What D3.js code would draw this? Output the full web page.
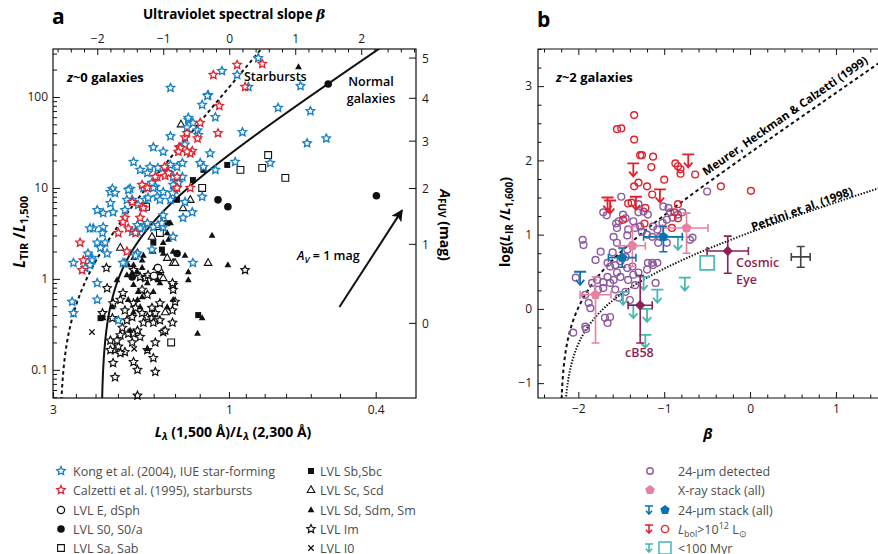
<!DOCTYPE html>
<html>
<head>
<meta charset="utf-8">
<title>IRX-beta</title>
<style>
  body { margin: 0; background: #fff; }
  text { font-family: "Open Sans", "Noto Sans", sans-serif; }
</style>
</head>
<body>
<svg id="chart" width="878" height="554"></svg>
<script src="https://cdn.jsdelivr.net/npm/d3@7"></script>
<script>
// ---------- panel a data: [beta, L_TIR/L_1500] ----------
const kongStars = [[-0.89,126],[-0.11,193],[0.12,175],[0.44,268],[0.29,129],[-0.32,105],[-0.41,82],[-0.21,60],[0.74,76],[-0.62,56],[-0.55,52],[-0.48,43],[-0.64,46],[-0.47,38],[-0.89,37],[0.20,41],[-0.67,30],[-1.15,28],[-1.00,25],[-0.29,24],[-1.45,19.3],[0.09,19.3],[0.62,18.8],[-0.44,18.8],[-0.39,17],[-1.20,17],[-0.89,17.9],[-0.79,17],[-0.71,18.8],[-1.35,15.8],[-1.24,14.6],[-0.94,15],[-0.21,15.8],[-0.85,13.2],[-1.77,9.8],[-1.50,9.8],[-1.12,10.3],[-0.77,11.4],[-1.08,16.6],[-1.80,9.0],[-1.73,8.8],[-1.53,9.5],[-1.47,7.4],[-1.55,7.4],[-1.80,6.8],[-1.58,5.7],[-1.76,5.4],[-1.91,5.3],[-2.00,5.7],[-1.91,3.7],[-2.06,3.6],[-1.92,3.2],[-2.11,3.6],[-1.88,2.5],[-2.00,2.5],[-1.95,2.2],[-1.85,1.9],[-2.14,1.9],[-2.08,1.7],[-2.36,1.5],[-2.18,1.32],[-2.08,1.6],[-1.30,10],[-1.27,7.4],[-1.23,7.8],[-1.09,8.0],[-1.15,10],[-1.05,7.4],[-1.00,9.0],[-1.17,11.4],[-1.38,6.5],[-1.00,5.0],[-1.30,3.7],[-1.39,3.9],[-1.47,3.3],[-1.39,3.3],[-1.35,3.6],[-1.24,4.1],[-1.15,3.7],[-1.08,3.9],[-1.00,3.7],[-1.39,1.9],[-1.58,1.5],[-1.17,2.1],[-0.85,10.8],[-0.82,9.5],[-0.86,8.8],[-0.71,13.2],[-0.89,7.4],[-0.67,7.0],[-0.70,4.7],[-0.56,5.4],[-0.85,2.9],[-1.02,4.1],[-0.55,1.5],[-0.41,8.0],[-2.38,0.56],[-2.36,0.42],[-2.00,0.90],[-2.00,0.59],[-1.68,0.35],[-1.61,1.5],[-1.42,1.8],[-2.11,1.42],[1.23,70],[1.18,31],[1.47,35],[1.08,132],[-0.33,103],[-0.62,59]];
const calzettiStars = [[0.12,225],[0.50,231],[-0.24,175],[0.24,129],[-0.15,80],[-0.44,52],[-0.17,40],[-0.67,36],[-0.76,28],[-0.56,25.5],[-0.59,24],[-1.09,13.2],[-0.97,13.6],[-0.79,13.2],[-1.32,10.8],[-0.98,17],[-2.26,2.5],[-2.21,1.6],[-2.23,1.25],[-1.55,2.0],[-1.58,4.7],[-1.47,7.0],[-1.61,4.2],[-1.32,6.2],[-1.30,6.0],[-1.35,4.7],[-1.53,3.6],[-1.42,3.2],[-1.68,3.2],[-1.24,10],[-1.12,13.2],[-0.92,14.6],[-0.79,10],[-0.74,27.5],[-0.64,25],[-0.64,40],[-0.48,35],[-0.77,25],[-0.59,10]];
const lvlIm = [[-1.86,1.32],[-1.85,0.79],[-1.92,0.42],[-1.76,0.54],[-1.73,0.083],[-1.65,0.59],[-1.55,0.35],[-1.62,0.29],[-1.80,0.21],[-1.73,0.165],[-1.76,0.119],[-1.68,0.18],[-1.58,0.157],[-1.65,0.24],[-1.53,0.25],[-1.45,0.25],[-1.47,0.20],[-1.39,0.27],[-1.35,0.23],[-1.45,0.122],[-1.39,0.10],[-1.39,0.052],[-1.32,0.42],[-1.24,0.38],[-1.17,0.37],[-1.12,0.42],[-1.05,0.35],[-1.15,0.33],[-1.00,0.26],[-1.12,0.20],[-1.24,0.165],[-1.15,0.135],[-1.12,0.095],[-0.86,0.33],[-0.86,0.45],[-0.85,0.76],[-0.85,0.86],[-0.82,0.56],[-1.17,0.48],[-1.24,0.67],[-1.32,0.76],[-1.45,0.54],[-1.42,0.48],[-1.47,0.38],[-1.58,0.45],[-1.61,0.70],[-1.35,1.05],[-1.45,1.25],[-1.27,1.02],[-1.23,1.10],[0.24,1.25],[-0.86,0.90],[-1.05,0.54],[-1.30,0.33],[-1.70,0.21],[-1.80,0.165],[-1.65,0.153],[-1.77,0.37],[-1.15,1.05],[-0.97,0.27]];
const lvlSd = [[-1.77,0.49],[-1.91,0.37],[-1.55,1.10],[-1.45,0.86],[-1.38,0.72],[-1.39,0.59],[-1.32,0.63],[-1.24,0.90],[-1.15,0.72],[-1.12,1.32],[-1.08,0.97],[-1.45,1.42],[-1.45,1.7],[-1.32,1.6],[-1.30,1.8],[-1.39,2.0],[-1.15,2.0],[-1.00,1.9],[-0.85,2.0],[-0.67,1.8],[-0.62,0.97],[-0.41,0.37],[-0.48,0.25],[-0.02,1.42],[-1.24,0.17],[-1.35,0.49],[-1.45,0.43],[-0.94,0.49],[-0.85,0.59],[-1.05,0.90],[-1.50,0.27],[-1.53,0.59],[-1.70,0.97],[-0.26,3.0],[-1.47,1.16],[-1.39,1.19],[-1.32,1.32],[-1.05,1.16],[-0.92,2.7],[-1.00,2.5],[-0.94,3.2],[-1.53,1.42],[-1.09,1.35],[-0.89,4.1],[1.05,214],[-0.62,1.19]];
const lvlSc = [[-0.73,50],[-0.70,6.0],[-0.59,7.4],[-1.17,2.9],[-1.65,2.2],[-0.94,1.7],[-0.85,1.5],[-0.32,1.5],[-1.00,1.02],[-1.05,1.25],[-0.82,1.5],[-0.97,0.43]];
const lvlSa = [[0.50,16.6],[0.59,23],[0.85,12.9],[-0.41,10],[-1.05,3.2],[-1.26,6.2],[-0.88,0.20],[0.17,15.8]];
const lvlSb = [[-0.77,12.9],[-0.55,12.2],[-0.39,15.8],[-0.03,17.9],[-0.79,7.4],[-1.15,2.5],[-0.94,4.1],[-1.02,2.1],[-0.47,0.40],[-1.95,0.37]];
const lvlS0 = [[-0.17,7.4],[-0.02,6.2],[-0.79,1.9],[-1.47,1.05],[2.23,8.2],[1.50,139]];
const lvlE = [[-1.14,1.08],[-1.08,1.32]];
const lvlI0 = [[-2.08,0.26],[-1.44,0.17]];

const betaTicksA = [-2, -1, 0, 1, 2];
const ratioTicks = [3, 1, 0.4];
const ratioMinor = [2.6, 2.3, 2, 1.8, 1.6, 1.4, 1.2, 0.9, 0.8, 0.7, 0.6, 0.5];
const irxTicks = [0.1, 1, 10, 100];
const afuvTicks = [0, 1, 2, 3, 4, 5];
const avVector = [[1.67, 0.49], [2.62, 5.7]];

// ---------- panel b data: [beta, log(L_IR/L_1600)] ----------
const detected24 = [[-1.50,1.51],[-1.71,1.30],[-1.67,1.26],[-1.56,1.15],[-1.53,1.18],[-1.48,1.27],[-1.45,1.22],[-1.55,1.09],[-1.59,0.97],[-1.55,0.89],[-1.43,0.99],[-1.42,1.07],[-1.36,1.18],[-1.30,1.30],[-1.24,1.31],[-1.19,1.27],[-1.30,1.41],[-1.28,1.11],[-1.34,1.09],[-1.26,1.04],[-1.20,1.00],[-1.14,0.97],[-1.13,1.11],[-1.08,1.07],[-1.02,1.16],[-0.97,1.20],[-0.95,1.36],[-0.93,1.30],[-0.90,1.23],[-0.84,1.27],[-0.79,1.30],[-1.01,1.38],[-1.07,0.89],[-0.97,0.89],[-1.05,0.97],[-0.70,0.93],[-0.67,0.96],[-0.50,1.58],[-1.95,0.93],[-1.94,0.86],[-1.80,0.66],[-1.74,0.77],[-1.66,0.62],[-1.63,0.57],[-1.57,0.59],[-1.51,0.64],[-1.60,0.76],[-1.66,0.43],[-1.71,0.36],[-1.63,0.35],[-1.57,0.26],[-1.71,0.28],[-1.77,0.26],[-1.78,0.39],[-1.84,0.35],[-1.88,0.08],[-1.86,0.01],[-2.03,0.42],[-1.92,0.19],[-1.69,-0.12],[-1.63,-0.11],[-1.66,-0.19],[-1.92,-0.24],[-1.91,-0.27],[-2.06,-0.32],[-1.53,0.15],[-1.42,0.39],[-1.36,0.46],[-1.30,0.49],[-1.20,0.53],[-1.37,0.57],[-1.43,0.55],[-1.34,0.32],[-1.19,0.62],[-1.14,0.62],[-1.13,0.59],[-1.08,0.62],[-1.10,0.35],[-1.45,0.23],[-1.40,0.12],[-1.51,0.43],[-1.55,0.49],[-1.59,0.39],[-1.43,0.80],[-1.45,0.70]];
const lbolCircles = [[-1.35,2.61],[-1.55,2.42],[-1.50,2.43],[-1.35,2.28],[-1.28,2.07],[-1.26,2.07],[-1.13,2.05],[-1.15,1.91],[-0.87,1.96],[-0.84,1.92],[-0.81,1.88],[-0.81,1.82],[-0.64,1.81],[-1.00,1.74],[-0.34,1.65],[0.01,1.59],[-1.30,1.70],[-1.35,1.65],[-1.20,1.65],[-1.14,1.54],[-1.42,1.42],[-1.38,1.43],[-1.22,1.36],[-0.84,1.41],[-0.88,1.30],[-0.84,1.22],[-1.23,1.15],[-1.48,1.20],[-0.91,1.09]];
const lbolLimits = [[-1.36,1.96],[-0.72,2.08],[-1.66,1.50],[-1.63,1.46],[-1.33,1.51],[-1.05,1.61]];
const youngLimits = [[-0.84,0.97],[-1.24,0.43],[-1.08,0.26],[-0.76,0.42],[-1.48,0.23],[-1.36,0.05],[-1.20,0.0],[-1.22,-0.35]];
const youngSquare = [[-0.50,0.62]];
const stack24Limits = [[-1.98,0.50]];
// stacks with error bars: beta, value, beta low/high, value low/high
const stack24 = [{b:-1.49,v:0.69,bl:-1.65,bh:-1.33,vl:0.56,vh:0.82},{b:-1.01,v:0.97,bl:-1.24,bh:-0.79,vl:0.77,vh:1.11}];
const xrayStack = [{b:-1.80,v:0.19,bl:-1.98,bh:-1.62,vl:-0.46,vh:0.43},{b:-1.37,v:0.85,bl:-1.52,bh:-1.22,vl:0.57,vh:1.11},{b:-0.74,v:1.09,bl:-1.02,bh:-0.49,vl:0.75,vh:1.29}];
const lensed = [{name:'cB58',b:-1.28,v:0.05,bl:-1.42,bh:-1.14,vl:-0.46,vh:0.45},{name:'Cosmic Eye',b:-0.26,v:0.78,bl:-0.50,bh:-0.02,vl:0.48,vh:0.98}];
const typicalError = [{b:0.59,v:0.70,bl:0.48,bh:0.70,vl:0.56,vh:0.84}];
const betaTicksB = [-2, -1, 0, 1];
const logTicksB = [-1, 0, 1, 2, 3];

const C = { blue:'#1680c2', red:'#e2222f', purple:'#8c5aa0', pink:'#e8809f', dblue:'#0a75ac', teal:'#45b8b0', plum:'#8e1f57', lred:'#e3202c' };
const intFmt = d3.format('d');

const svg = d3.select('#chart');

function starPath(r1, r2) {
  let p = '';
  for (let i = 0; i < 10; i++) {
    const r = i % 2 ? r2 : r1, a = -Math.PI / 2 + i * Math.PI / 5;
    p += (i ? 'L' : 'M') + (r * Math.cos(a)).toFixed(2) + ',' + (r * Math.sin(a)).toFixed(2);
  }
  return p + 'Z';
}
function polyPath(n, r, rot) {
  let p = '';
  for (let i = 0; i < n; i++) {
    const a = rot + i * 2 * Math.PI / n;
    p += (i ? 'L' : 'M') + (r * Math.cos(a)).toFixed(2) + ',' + (r * Math.sin(a)).toFixed(2);
  }
  return p + 'Z';
}
const SYM = {
  star: starPath(4.4, 2.15),
  triF: 'M0,-3.8L3.4,2.2L-3.4,2.2Z',
  triO: 'M0,-4.2L3.8,2.5L-3.8,2.5Z',
  sqO: 'M-3.4,-3.4h6.8v6.8h-6.8Z',
  sqF: 'M-3,-3h6v6h-6Z',
  cross: 'M-2.7,-2.7L2.7,2.7M2.7,-2.7L-2.7,2.7',
  pent: polyPath(5, 5.2, -Math.PI / 2),
  diam: polyPath(4, 5.2, -Math.PI / 2),
  limit: 'M-6,0H6M0,0V13M-4.2,8.2L0,13L4.2,8.2',
  bigSq: 'M-7,-7h14v14h-14Z'
};

function drawPts(g, data, x, y, d, st) {
  g.append('g').selectAll('path').data(data).join('path')
    .attr('d', d)
    .attr('transform', p => `translate(${x(p[0])},${y(p[1])})`)
    .attr('fill', st.fill || 'none')
    .attr('stroke', st.stroke || 'none')
    .attr('stroke-width', st.sw || 0);
}
function styleAxis(g, fs) {
  g.select('.domain').remove();
  g.selectAll('line').attr('stroke', '#111').attr('stroke-width', 1);
  g.selectAll('text').attr('font-size', fs || 12).attr('fill', '#1a1a1a').attr('font-family', '"Open Sans", sans-serif');
}

// ================= PANEL a =================
const A = { left: 53, top: 49, w: 363, h: 349 };
const ga = svg.append('g').attr('transform', `translate(${A.left},${A.top})`);
const xBeta = d3.scaleLinear().domain([-2.67, 2.83]).range([0, A.w]);
const xRatio = d3.scaleLog().domain([3, 0.311]).range([0, A.w]);
const yIrx = d3.scaleLog().domain([0.049, 337]).range([A.h, 0]);

// right axis: Buat et al. polynomial A_FUV(log IRX)
function buat(x) { return -0.0333 * x * x * x + 0.3522 * x * x + 1.196 * x + 0.4967; }
function irxFromAfuv(a) {
  let lo = -1.2, hi = 3.5;
  for (let i = 0; i < 60; i++) { const m = (lo + hi) / 2; if (buat(m) < a) lo = m; else hi = m; }
  return Math.pow(10, (lo + hi) / 2);
}

ga.append('clipPath').attr('id', 'clipA').append('rect').attr('width', A.w).attr('height', A.h);

// model curves
const curveA = d3.line().x(d => xBeta(d[0])).y(d => yIrx(d[1]));
const starburst = b => 0.8 * (Math.pow(10, 0.859 * (b + 2.571)) - 1);
const normal = b => 2.9 * (Math.pow(10, 0.492 * (b + 1.94)) - 1);
const sbLine = d3.range(-2.5705, 0.7, 0.002).map(b => [b, starburst(b)]).filter(d => d[1] > 0.03);
const nmLine = d3.range(-1.9395, 2.9, 0.002).map(b => [b, normal(b)]).filter(d => d[1] > 0.03);
const curves = ga.append('g').attr('clip-path', 'url(#clipA)');
curves.append('path').attr('d', curveA(sbLine)).attr('fill', 'none').attr('stroke', '#111').attr('stroke-width', 2).attr('stroke-dasharray', '3.5,3');
curves.append('path').attr('d', curveA(nmLine)).attr('fill', 'none').attr('stroke', '#111').attr('stroke-width', 2);

// points
const pa = ga.append('g');
drawPts(pa, lvlIm, xBeta, yIrx, SYM.star, { fill: '#fff', stroke: '#111', sw: 1.2 });
drawPts(pa, lvlSd, xBeta, yIrx, SYM.triF, { fill: '#111' });
drawPts(pa, lvlSc, xBeta, yIrx, SYM.triO, { fill: '#fff', stroke: '#111', sw: 1.1 });
drawPts(pa, lvlSa, xBeta, yIrx, SYM.sqO, { fill: '#fff', stroke: '#111', sw: 1.1 });
drawPts(pa, lvlSb, xBeta, yIrx, SYM.sqF, { fill: '#111' });
pa.append('g').selectAll('circle').data(lvlS0).join('circle')
  .attr('cx', d => xBeta(d[0])).attr('cy', d => yIrx(d[1])).attr('r', 3.8).attr('fill', '#111');
pa.append('g').selectAll('circle').data(lvlE).join('circle')
  .attr('cx', d => xBeta(d[0])).attr('cy', d => yIrx(d[1])).attr('r', 3.6).attr('fill', '#fff').attr('stroke', '#111').attr('stroke-width', 1.2);
drawPts(pa, lvlI0, xBeta, yIrx, SYM.cross, { stroke: '#111', sw: 1.3 });
drawPts(pa, kongStars, xBeta, yIrx, SYM.star, { fill: '#fff', stroke: C.blue, sw: 1.35 });
drawPts(pa, calzettiStars, xBeta, yIrx, SYM.star, { fill: '#fff', stroke: C.red, sw: 1.35 });

// A_V = 1 mag vector
svg.append('defs').append('marker').attr('id', 'ah').attr('viewBox', '0 0 10 10').attr('refX', 9).attr('refY', 5)
  .attr('markerWidth', 6).attr('markerHeight', 6).attr('orient', 'auto-start-reverse')
  .append('path').attr('d', 'M0,0L10,5L0,10L2.5,5Z').attr('fill', '#111');
ga.append('line')
  .attr('x1', xBeta(avVector[0][0])).attr('y1', yIrx(avVector[0][1]))
  .attr('x2', xBeta(avVector[1][0])).attr('y2', yIrx(avVector[1][1]))
  .attr('stroke', '#111').attr('stroke-width', 2).attr('marker-end', 'url(#ah)');

// frame
ga.append('rect').attr('width', A.w).attr('height', A.h).attr('fill', 'none').attr('stroke', '#111').attr('stroke-width', 1.2);

// axes
const minorIrx = [];
[0.01, 0.1, 1, 10, 100].forEach(d => { for (let k = 2; k <= 9; k++) { const v = d * k; if (v > 0.049 && v < 337) minorIrx.push(v); } });
ga.append('g').call(d3.axisLeft(yIrx).tickValues(irxTicks).tickFormat(d => d).tickSize(-7).tickPadding(5)).call(styleAxis);
ga.append('g').call(d3.axisLeft(yIrx).tickValues(minorIrx).tickFormat('').tickSize(-4)).call(styleAxis);
ga.append('g').call(d3.axisTop(xBeta).tickValues(betaTicksA).tickFormat(intFmt).tickSize(-6).tickPadding(6)).call(styleAxis);
ga.append('g').call(d3.axisTop(xBeta).tickValues(d3.range(-2.6, 2.81, 0.2).filter(v => Math.abs(v - Math.round(v)) > 0.05)).tickFormat('').tickSize(-3.5)).call(styleAxis);
ga.append('g').attr('transform', `translate(0,${A.h})`).call(d3.axisBottom(xRatio).tickValues(ratioTicks).tickFormat(d => d).tickSize(-6).tickPadding(7)).call(styleAxis);
ga.append('g').attr('transform', `translate(0,${A.h})`).call(d3.axisBottom(xRatio).tickValues(ratioMinor).tickFormat('').tickSize(-4)).call(styleAxis);
const ra = ga.append('g');
afuvTicks.forEach(a => {
  const y = yIrx(irxFromAfuv(a));
  ra.append('line').attr('x1', A.w - 7).attr('x2', A.w).attr('y1', y).attr('y2', y).attr('stroke', '#111');
  ra.append('text').attr('x', A.w + 6).attr('y', y + 4.5).attr('font-size', 12).attr('fill', '#1a1a1a').text(a);
});

// panel a text
svg.append('text').attr('x', 52).attr('y', 24).attr('font-size', 21).attr('font-weight', 700).text('a');
svg.append('text').attr('x', 234).attr('y', 19).attr('text-anchor', 'middle').attr('font-size', 13.5).attr('font-weight', 700)
  .call(t => { t.append('tspan').text('Ultraviolet spectral slope '); t.append('tspan').attr('font-style', 'italic').attr('font-family', 'DejaVu Serif').text('β'); });
svg.append('text').attr('x', 67).attr('y', 82).attr('font-size', 13).attr('font-weight', 700)
  .call(t => { t.append('tspan').attr('font-style', 'italic').text('z'); t.append('tspan').text('~0 galaxies'); });
svg.append('text').attr('x', 244).attr('y', 81).attr('font-size', 12.5).attr('font-weight', 600).text('Starbursts');
svg.append('text').attr('x', 371).attr('y', 86).attr('text-anchor', 'middle').attr('font-size', 12.5).attr('font-weight', 600).text('Normal');
svg.append('text').attr('x', 371).attr('y', 103).attr('text-anchor', 'middle').attr('font-size', 12.5).attr('font-weight', 600).text('galaxies');
svg.append('text').attr('x', 297).attr('y', 260).attr('font-size', 12.5).attr('font-weight', 600)
  .call(t => {
    t.append('tspan').attr('font-style', 'italic').text('A');
    t.append('tspan').attr('font-size', 9).attr('dy', 3).attr('font-style', 'italic').text('V');
    t.append('tspan').attr('dy', -3).text(' = 1 mag');
  });
// left axis title
svg.append('text').attr('transform', 'translate(25,232) rotate(-90)').attr('text-anchor', 'middle').attr('font-size', 15.5).attr('font-weight', 700)
  .call(t => {
    t.append('tspan').attr('font-style', 'italic').text('L');
    t.append('tspan').attr('font-size', 11).attr('dy', 3).text('TIR');
    t.append('tspan').attr('dy', -3).text(' /');
    t.append('tspan').attr('font-style', 'italic').text('L');
    t.append('tspan').attr('font-size', 11).attr('dy', 3).text('1,500');
  });
// right axis title
svg.append('text').attr('transform', 'translate(440,225) rotate(90)').attr('text-anchor', 'middle').attr('font-size', 14).attr('font-weight', 700)
  .call(t => {
    t.append('tspan').attr('font-style', 'italic').text('A');
    t.append('tspan').attr('font-size', 10).attr('dy', 2).text('FUV');
    t.append('tspan').attr('dy', -2).text(' (mag)');
  });
// bottom axis title
svg.append('text').attr('x', 233).attr('y', 437).attr('text-anchor', 'middle').attr('font-size', 14).attr('font-weight', 700)
  .call(t => {
    t.append('tspan').attr('font-style', 'italic').text('L');
    t.append('tspan').attr('font-size', 10).attr('dy', 3).attr('font-style', 'italic').text('λ');
    t.append('tspan').attr('dy', -3).text(' (1,500 Å)/');
    t.append('tspan').attr('font-style', 'italic').text('L');
    t.append('tspan').attr('font-size', 10).attr('dy', 3).attr('font-style', 'italic').text('λ');
    t.append('tspan').attr('dy', -3).text(' (2,300 Å)');
  });

// ================= PANEL b =================
const B = { left: 538, top: 49, w: 340, h: 349 };
const gb = svg.append('g').attr('transform', `translate(${B.left},${B.top})`);
const xb = d3.scaleLinear().domain([-2.47, 1.49]).range([0, B.w]);
const yb = d3.scaleLinear().domain([-1.2, 3.5]).range([B.h, 0]);
gb.append('clipPath').attr('id', 'clipB').append('rect').attr('width', B.w).attr('height', B.h);

const meurer = b => Math.log10(2.2 * (Math.pow(10, 0.8 * (b + 2.21)) - 1));
const pettini = b => Math.log10(2.1 * (Math.pow(10, 0.36 * (b + 2.18)) - 1));
const curveB = d3.line().x(d => xb(d[0])).y(d => yb(d[1]));
const cb = gb.append('g').attr('clip-path', 'url(#clipB)');
cb.append('path').attr('d', curveB(d3.range(-2.2, 1.6, 0.004).map(b => [b, meurer(b)]).filter(d => d[1] > -1.4)))
  .attr('fill', 'none').attr('stroke', '#111').attr('stroke-width', 2).attr('stroke-dasharray', '3.5,3');
cb.append('path').attr('d', curveB(d3.range(-2.17, 1.6, 0.004).map(b => [b, pettini(b)]).filter(d => d[1] > -1.4)))
  .attr('fill', 'none').attr('stroke', '#111').attr('stroke-width', 2).attr('stroke-dasharray', '1.4,1.6');

function errBars(g, data, color, cap) {
  data.forEach(d => {
    const x = xb(d.b), y = yb(d.v), x1 = xb(d.bl), x2 = xb(d.bh), y1 = yb(d.vl), y2 = yb(d.vh);
    const e = g.append('g').attr('stroke', color).attr('stroke-width', 1.6).attr('fill', 'none');
    e.append('path').attr('d', `M${x1},${y}H${x2}M${x1},${y - cap}V${y + cap}M${x2},${y - cap}V${y + cap}`);
    e.append('path').attr('d', `M${x},${y1}V${y2}M${x - cap},${y1}H${x + cap}M${x - cap},${y2}H${x + cap}`);
  });
}

const pb = gb.append('g');
pb.append('g').selectAll('circle').data(detected24).join('circle')
  .attr('cx', d => xb(d[0])).attr('cy', d => yb(d[1])).attr('r', 3.4)
  .attr('fill', 'none').attr('stroke', C.purple).attr('stroke-width', 1.4);
pb.append('g').selectAll('circle').data(lbolCircles).join('circle')
  .attr('cx', d => xb(d[0])).attr('cy', d => yb(d[1])).attr('r', 3.4)
  .attr('fill', 'none').attr('stroke', C.lred).attr('stroke-width', 1.4);
drawPts(pb, lbolLimits, xb, yb, SYM.limit, { stroke: C.lred, sw: 1.8 });
drawPts(pb, youngLimits, xb, yb, SYM.limit, { stroke: C.teal, sw: 1.8 });
drawPts(pb, stack24Limits, xb, yb, SYM.limit, { stroke: C.dblue, sw: 1.8 });
drawPts(pb, youngSquare, xb, yb, SYM.bigSq, { stroke: C.teal, sw: 1.6, fill: 'none' });
errBars(pb, xrayStack, C.pink, 4);
drawPts(pb, xrayStack.map(d => [d.b, d.v]), xb, yb, SYM.pent, { fill: C.pink });
errBars(pb, stack24, C.dblue, 4);
drawPts(pb, stack24.map(d => [d.b, d.v]), xb, yb, SYM.pent, { fill: C.dblue });
errBars(pb, lensed, C.plum, 4);
drawPts(pb, lensed.map(d => [d.b, d.v]), xb, yb, SYM.diam, { fill: C.plum });
errBars(pb, typicalError, '#444', 4);

// frame (right edge lies outside the picture)
gb.append('path').attr('d', `M${B.w + 2},0H0V${B.h}H${B.w + 2}`).attr('fill', 'none').attr('stroke', '#111').attr('stroke-width', 1.2);

gb.append('g').call(d3.axisLeft(yb).tickValues(logTicksB).tickFormat(intFmt).tickSize(-6).tickPadding(6)).call(styleAxis);
gb.append('g').call(d3.axisLeft(yb).tickValues(d3.range(-1, 3.51, 0.25).filter(v => v % 1 !== 0)).tickFormat('').tickSize(-3.5)).call(styleAxis);
gb.append('g').attr('transform', `translate(0,${B.h})`).call(d3.axisBottom(xb).tickValues(betaTicksB).tickFormat(intFmt).tickSize(-6).tickPadding(6)).call(styleAxis);
const minorB = d3.range(-2.4, 1.5, 0.2).filter(v => Math.abs(v - Math.round(v)) > 0.05);
gb.append('g').attr('transform', `translate(0,${B.h})`).call(d3.axisBottom(xb).tickValues(minorB).tickFormat('').tickSize(-3.5)).call(styleAxis);
gb.append('g').call(d3.axisTop(xb).tickValues(betaTicksB).tickFormat('').tickSize(-6)).call(styleAxis);
gb.append('g').call(d3.axisTop(xb).tickValues(minorB).tickFormat('').tickSize(-3.5)).call(styleAxis);

// panel b text
svg.append('text').attr('x', 537).attr('y', 27).attr('font-size', 21).attr('font-weight', 700).text('b');
svg.append('text').attr('x', 556).attr('y', 82).attr('font-size', 13).attr('font-weight', 700)
  .call(t => { t.append('tspan').attr('font-style', 'italic').text('z'); t.append('tspan').text('~2 galaxies'); });
svg.append('text').attr('transform', 'translate(706,176) rotate(-35)').attr('font-size', 11.5).attr('font-weight', 700)
  .text('Meurer, Heckman & Calzetti (1999)');
svg.append('text').attr('transform', 'translate(753,231) rotate(-20)').attr('font-size', 11.5).attr('font-weight', 700)
  .text('Pettini et al. (1998)');
svg.append('text').attr('x', 625).attr('y', 357).attr('font-size', 12.5).attr('font-weight', 600).attr('fill', C.plum).text('cB58');
svg.append('text').attr('x', 736).attr('y', 267).attr('font-size', 12.5).attr('font-weight', 600).attr('fill', C.plum).text('Cosmic');
svg.append('text').attr('x', 736).attr('y', 284).attr('font-size', 12.5).attr('font-weight', 600).attr('fill', C.plum).text('Eye');
svg.append('text').attr('transform', 'translate(510,222) rotate(-90)').attr('text-anchor', 'middle').attr('font-size', 14).attr('font-weight', 700)
  .call(t => {
    t.append('tspan').text('log(');
    t.append('tspan').attr('font-style', 'italic').text('L');
    t.append('tspan').attr('font-size', 10).attr('dy', 3).text('IR');
    t.append('tspan').attr('dy', -3).text(' /');
    t.append('tspan').attr('font-style', 'italic').text('L');
    t.append('tspan').attr('font-size', 10).attr('dy', 3).text('1,600');
    t.append('tspan').attr('dy', -3).text(')');
  });
svg.append('text').attr('x', 708).attr('y', 439).attr('text-anchor', 'middle').attr('font-size', 15).attr('font-weight', 700)
  .attr('font-style', 'italic').attr('font-family', 'DejaVu Serif').text('β');

// ================= legends =================
const legRows = [471, 490, 510, 529, 548];
const leg = svg.append('g').attr('font-size', 12.5).attr('fill', '#4d4d4d');
function legSym(x, y, d, st) {
  leg.append('path').attr('d', d).attr('transform', `translate(${x},${y})`)
    .attr('fill', st.fill || 'none').attr('stroke', st.stroke || 'none').attr('stroke-width', st.sw || 0);
}
function legText(x, y, s) { return leg.append('text').attr('x', x).attr('y', y + 4.5).text(s); }
legSym(61, legRows[0], SYM.star, { fill: '#fff', stroke: C.blue, sw: 1.3 }); legText(73, legRows[0], 'Kong et al. (2004), IUE star-forming');
legSym(61, legRows[1], SYM.star, { fill: '#fff', stroke: C.red, sw: 1.3 }); legText(73, legRows[1], 'Calzetti et al. (1995), starbursts');
leg.append('circle').attr('cx', 61).attr('cy', legRows[2]).attr('r', 3.6).attr('fill', '#fff').attr('stroke', '#111').attr('stroke-width', 1.3); legText(73, legRows[2], 'LVL E, dSph');
leg.append('circle').attr('cx', 61).attr('cy', legRows[3]).attr('r', 3.8).attr('fill', '#111'); legText(73, legRows[3], 'LVL S0, S0/a');
legSym(61, legRows[4], SYM.sqO, { fill: '#fff', stroke: '#111', sw: 1.1 }); legText(73, legRows[4], 'LVL Sa, Sab');
legSym(311, legRows[0], SYM.sqF, { fill: '#111' }); legText(320, legRows[0], 'LVL Sb,Sbc');
legSym(311, legRows[1], SYM.triO, { fill: '#fff', stroke: '#111', sw: 1.1 }); legText(320, legRows[1], 'LVL Sc, Scd');
legSym(311, legRows[2], SYM.triF, { fill: '#111' }); legText(320, legRows[2], 'LVL Sd, Sdm, Sm');
legSym(311, legRows[3], SYM.star, { fill: '#fff', stroke: '#111', sw: 1.2 }); legText(320, legRows[3], 'LVL Im');
legSym(311, legRows[4], SYM.cross, { stroke: '#111', sw: 1.3 }); legText(320, legRows[4], 'LVL I0');

const smallLimit = 'M-4,0H4M0,0V8M-3,4.8L0,8L3,4.8';
leg.append('circle').attr('cx', 650).attr('cy', legRows[0]).attr('r', 3.2).attr('fill', 'none').attr('stroke', C.purple).attr('stroke-width', 1.4);
legText(678, legRows[0], '24-μm detected');
legSym(650, legRows[1], polyPath(5, 5, -Math.PI / 2), { fill: C.pink }); legText(678, legRows[1], 'X-ray stack (all)');
legSym(649, legRows[2] - 4, smallLimit, { stroke: C.dblue, sw: 1.6 });
legSym(665, legRows[2], polyPath(5, 5, -Math.PI / 2), { fill: C.dblue }); legText(678, legRows[2], '24-μm stack (all)');
legSym(649, legRows[3] - 4, smallLimit, { stroke: C.lred, sw: 1.6 });
leg.append('circle').attr('cx', 665).attr('cy', legRows[3]).attr('r', 3.6).attr('fill', 'none').attr('stroke', C.lred).attr('stroke-width', 1.4);
legText(678, legRows[3], '').call(t => {
  t.append('tspan').attr('font-style', 'italic').text('L');
  t.append('tspan').attr('font-size', 9).attr('dy', 3).text('bol');
  t.append('tspan').attr('dy', -3).text('>10');
  t.append('tspan').attr('font-size', 9).attr('dy', -5).text('12');
  t.append('tspan').attr('dy', 5).text(' L');
  t.append('tspan').attr('font-size', 9).attr('dy', 3).text('⊙');
});
legSym(649, legRows[4] - 4, smallLimit, { stroke: C.teal, sw: 1.6 });
legSym(665, legRows[4], 'M-6,-6h12v12h-12Z', { stroke: C.teal, sw: 1.5 }); legText(678, legRows[4], '<100 Myr');
</script>
</body>
</html>
